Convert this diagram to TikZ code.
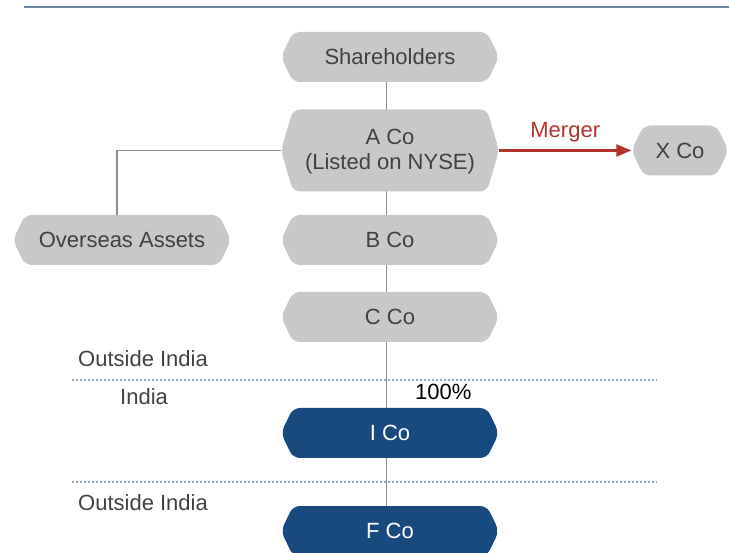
\documentclass[tikz,border=0pt]{standalone}
\usepackage{fontspec}
\setmainfont{Liberation Sans}
\usetikzlibrary{arrows.meta,backgrounds}
\definecolor{boxgray}{HTML}{C7C8CA}
\definecolor{boxblue}{HTML}{184A7F}
\definecolor{txtgray}{HTML}{414042}
\definecolor{linegray}{HTML}{8C8C8C}
\definecolor{rulecol}{HTML}{6F86A3}
\definecolor{dotcol}{HTML}{8FA5C0}
\definecolor{mergered}{HTML}{B3342B}
\tikzset{
  hexbox/.style 2 args={rectangle, inner sep=0pt, minimum width=#2, minimum height=50pt,
    font=\fontsize{22}{25}\selectfont, align=center,
    path picture={\fill[#1, rounded corners=7pt]
      (path picture bounding box.west)
      -- ([xshift=12pt]path picture bounding box.north west)
      -- ([xshift=-12pt]path picture bounding box.north east)
      -- (path picture bounding box.east)
      -- ([xshift=-12pt]path picture bounding box.south east)
      -- ([xshift=12pt]path picture bounding box.south west)
      -- cycle;}},
  graybox/.style={hexbox={boxgray}{#1}, text=txtgray},
  bluebox/.style={hexbox={boxblue}{#1}, text=white},
  conn/.style={draw=linegray, line width=1.2pt},
  region/.style={font=\fontsize{22}{25}\selectfont, text=txtgray, anchor=west, inner sep=0pt},
  divider/.style={draw=dotcol, line width=1.4pt, dash pattern=on 2pt off 2pt},
}
\begin{document}
\begin{tikzpicture}[x=1pt,y=-1pt]
\useasboundingbox (0,0) rectangle (729,553);
% top rule
\coordinate (r1) at (24,7.5);
\coordinate (r2) at (729,7.5);
\draw[rulecol, line width=2pt] (r1) -- (r2);

\node[graybox=218pt] (sh) at (390,57) {Shareholders};
\node[graybox=218pt, minimum height=82pt] (aco) at (390,150.5) {\strut A Co\\(Listed on NYSE)};
\node[graybox=218pt] (bco) at (390,240) {B Co};
\node[graybox=218pt] (cco) at (390,317) {C Co};
\node[bluebox=218pt] (ico) at (390,433) {I Co};
\node[bluebox=218pt] (fco) at (390,531) {F Co};
\node[graybox=218pt] (ovs) at (122,240) {Overseas Assets};
\node[graybox=97pt] (xco) at (680,150.5) {X Co};

% dividers
\coordinate (d1a) at (72,380);
\coordinate (d1b) at (657,380);
\coordinate (d2a) at (72,482);
\coordinate (d2b) at (657,482);
\draw[divider] (d1a) -- (d1b);
\draw[divider] (d2a) -- (d2b);

% region labels
\node[region] (oi1) at (78,359) {Outside India};
\node[region] (ind) at (120,397) {India};
\node[region] (oi2) at (78,503) {Outside India};
\node[region, text=black] (pct) at (415,392) {100\%};

% connectors behind boxes
\begin{scope}[on background layer]
\draw[conn] ([xshift=-3.5pt]sh.south) -- ([xshift=-3.5pt]fco.north);
\draw[conn] ([xshift=-5pt]ovs.north) |- (aco.west);
\end{scope}

% merger
\draw[mergered, line width=2.4pt, -{Triangle[length=15pt,width=12pt]}] (aco.east) -- node[above=4pt, font=\fontsize{22}{25}\selectfont, text=mergered] (mlab) {Merger} (xco.west);
\end{tikzpicture}
\end{document}
